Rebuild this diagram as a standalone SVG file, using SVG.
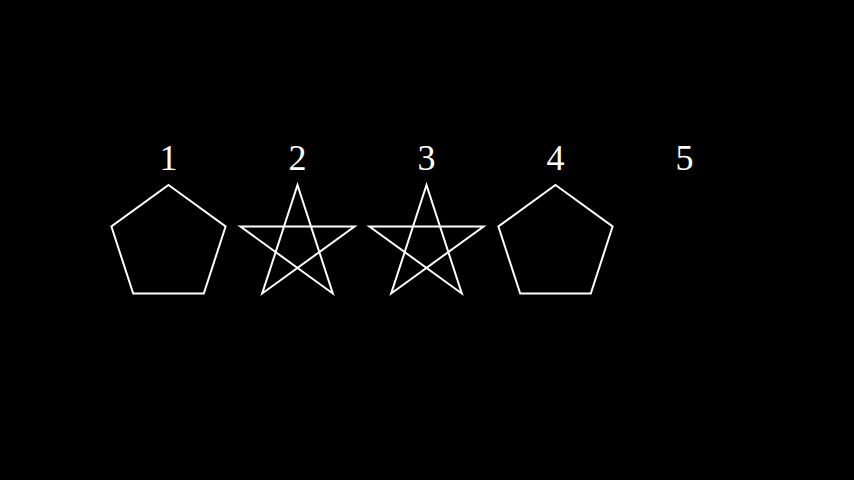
<svg xmlns="http://www.w3.org/2000/svg" width="854" height="480" viewBox="0 0 854 480">
<style>
.s{fill:none;stroke:#fff;stroke-width:2;stroke-linejoin:miter}
.t{fill:#fff;font-family:"Liberation Serif","Times New Roman",serif;font-size:36px;text-anchor:middle}
</style>
<defs>
<polygon id="pent" class="s" points="0,-60 57.1,-18.5 35.3,48.5 -35.3,48.5 -57.1,-18.5"/>
<polygon id="star" class="s" points="0,-60 35.3,48.5 -57.1,-18.5 57.1,-18.5 -35.3,48.5"/>
</defs>
<rect width="854" height="480" fill="#000"/>
<g id="n1"><text class="t" x="168.5" y="170">1</text><use href="#pent" x="168.5" y="245"/></g>
<g id="n2"><text class="t" x="297.5" y="170">2</text><use href="#star" x="297.5" y="245"/></g>
<g id="n3"><text class="t" x="426.5" y="170">3</text><use href="#star" x="426.5" y="245"/></g>
<g id="n4"><text class="t" x="555.5" y="170">4</text><use href="#pent" x="555.5" y="245"/></g>
<g id="n5"><text class="t" x="684.5" y="170">5</text></g>
<g id="connectors"></g>
</svg>
